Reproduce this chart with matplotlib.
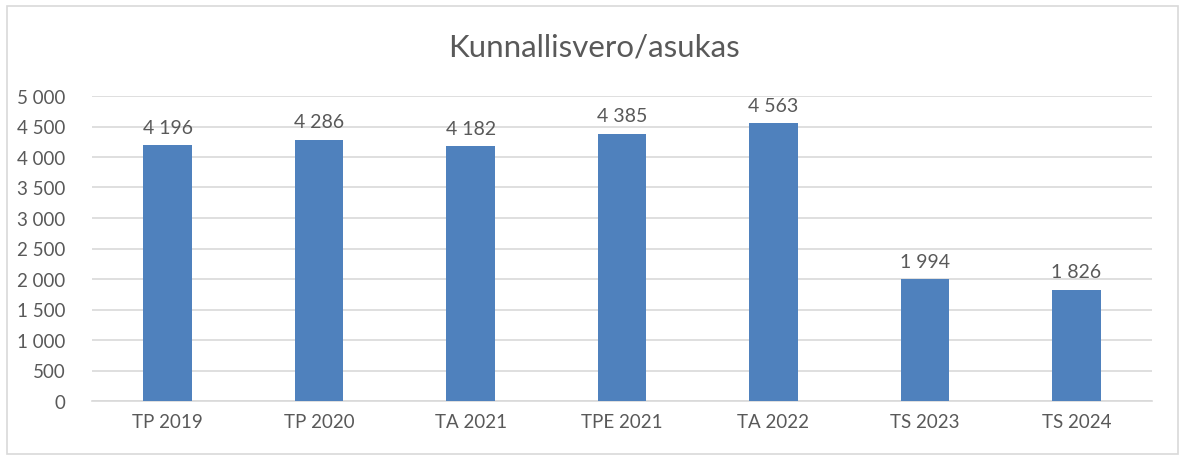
import matplotlib.pyplot as plt
from matplotlib.patches import Rectangle

categories = ["TP 2019", "TP 2020", "TA 2021", "TPE 2021", "TA 2022", "TS 2023", "TS 2024"]
values = [4196, 4286, 4182, 4385, 4563, 1994, 1826]
yticks = [0, 500, 1000, 1500, 2000, 2500, 3000, 3500, 4000, 4500, 5000]


def fmt(v):
    # space as thousands separator, Finnish style
    return f"{v:,}".replace(",", " ")


plt.rcParams['font.family'] = ['Lato', 'DejaVu Sans']
text_col = "#595959"

fig = plt.figure(figsize=(11.81, 4.56), dpi=100)
fig.patches.append(Rectangle((7 / 1181, 1 / 456), 1171 / 1181, 448 / 456,
                             transform=fig.transFigure, fill=False,
                             edgecolor="#D9D9D9", linewidth=1.2))
ax = fig.add_axes([92 / 1181, 1 - 402 / 456, 1060 / 1181, 305 / 456])

x = range(len(categories))
bars = ax.bar(x, values, width=0.32, color="#4F81BD", zorder=3)
for b, v in zip(bars, values):
    ax.text(b.get_x() + b.get_width() / 2, v + 150, fmt(v), ha="center", va="bottom",
            fontsize=14, color=text_col)

ax.set_xlim(-0.5, len(categories) - 0.5)
ax.set_ylim(0, 5000)
ax.set_yticks(yticks)
ax.set_yticklabels([fmt(t) for t in yticks])
ax.set_xticks(list(x))
ax.set_xticklabels(categories)
ax.tick_params(axis="both", length=0, labelsize=13.5, colors=text_col)
ax.tick_params(axis="y", pad=19)
ax.tick_params(axis="x", pad=9)
ax.grid(axis="y", color="#D9D9D9", linewidth=1.2, zorder=0)
for s in ["top", "right", "left"]:
    ax.spines[s].set_visible(False)
ax.spines["bottom"].set_color("#D9D9D9")
ax.spines["bottom"].set_linewidth(1.2)

fig.text(594 / 1181, 1 - 48 / 456, "Kunnallisvero/asukas", ha="center", va="center",
         fontsize=22.5, color=text_col)

fig.savefig("out.png", dpi=100)
